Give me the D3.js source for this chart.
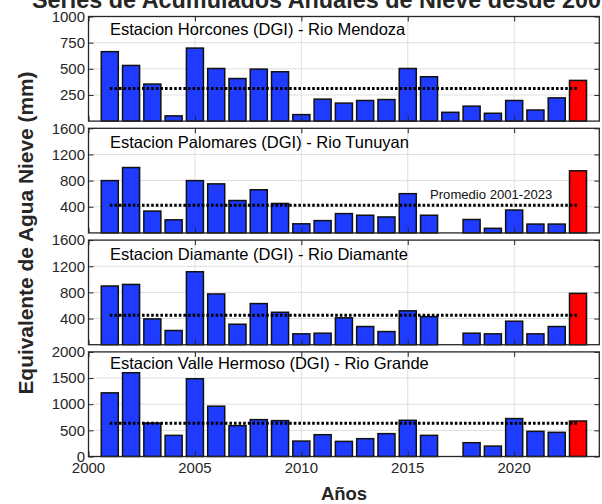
<!DOCTYPE html>
<html>
<head>
<meta charset="utf-8">
<script src="https://cdn.jsdelivr.net/npm/d3@7"></script>
<style>
  html, body { margin: 0; padding: 0; background: #fff; }
  svg { display: block; }
  text { font-family: "Liberation Sans", Arial, Helvetica, sans-serif; }
</style>
</head>
<body>
<svg id="chart" width="602" height="504"></svg>
<script>
// Hydrological years shown on every panel
const years = [2001, 2002, 2003, 2004, 2005, 2006, 2007, 2008, 2009, 2010, 2011, 2012,
               2013, 2014, 2015, 2016, 2017, 2018, 2019, 2020, 2021, 2022, 2023];

// Annual snow water equivalent (mm) per station; null = no record
const horcones   = [664, 532, 354, 50, 698, 503, 407, 497, 472, 62, 210, 172,
                    197, 206, 503, 424, 84, 143, 75, 197, 106, 222, 389];
const palomares  = [800, 1000, 334, 200, 800, 750, 495, 660, 450, 139, 188, 295,
                    270, 244, 600, 270, null, 205, 70, 350, 135, 135, 950];
const diamante   = [898, 922, 395, 217, 1116, 776, 313, 629, 496, 166, 176, 411,
                    278, 201, 518, 430, null, 176, 166, 359, 166, 278, 785];
const valleHerm  = [1217, 1602, 640, 404, 1487, 962, 590, 705, 686, 295, 417, 289,
                    341, 437, 692, 404, null, 264, 199, 725, 481, 462, 679];

// Panel titles
const stationNames = [
  "Estacion Horcones (DGI) - Rio Mendoza",
  "Estacion Palomares (DGI) - Rio Tunuyan",
  "Estacion Diamante (DGI) - Rio Diamante",
  "Estacion Valle Hermoso (DGI) - Rio Grande"
];

// Y ranges and tick values per panel
const yMax   = [1000, 1600, 1600, 2000];
const yTicks = [[250, 500, 750, 1000], [400, 800, 1200, 1600], [400, 800, 1200, 1600],
                [0, 500, 1000, 1500, 2000]];

// X axis
const xDomain = [2000, 2024];
const xTicks  = [2000, 2005, 2010, 2015, 2020];
const highlightYear = 2023;

const titleText  = "Series de Acumulados Anuales de Nieve desde 2001";
const yLabelText = "Equivalente de Agua Nieve (mm)";
const xLabelText = "Años";
const meanLabel  = "Promedio 2001-2023";

const series = [horcones, palomares, diamante, valleHerm];

// ---- layout ----
const left = 88.5, right = 599.3;
const panelTop0 = 16.5, panelStep = 111.8, panelH = 104.6;
const labelDy = [18, 20, 20.3, 17.3];

const axisColor = "#262626";
const gridColor = "#dedede";
const barBlue = "#1f3bff";
const barRed  = "#ff0000";
const tickLen = 5;

const svg = d3.select("#chart");
const x = d3.scaleLinear().domain(xDomain).range([left, right]);
const barW = (x(1) - x(0)) * 0.8;

series.forEach((vals, i) => {
  const top = panelTop0 + i * panelStep;
  const bottom = top + panelH;
  const y = d3.scaleLinear().domain([0, yMax[i]]).range([bottom, top]);
  const g = svg.append("g");

  const data = years.map((yr, k) => ({ year: yr, value: vals[k] }))
                    .filter(d => d.value != null);

  // grid
  g.append("g").selectAll("line.gy")
    .data(yTicks[i].filter(v => v > 0 && v < yMax[i]))
    .join("line")
    .attr("x1", left).attr("x2", right)
    .attr("y1", d => y(d)).attr("y2", d => y(d))
    .attr("stroke", gridColor).attr("stroke-width", 1);
  g.append("g").selectAll("line.gx")
    .data(xTicks.filter(v => v > xDomain[0]))
    .join("line")
    .attr("x1", d => x(d)).attr("x2", d => x(d))
    .attr("y1", top).attr("y2", bottom)
    .attr("stroke", gridColor).attr("stroke-width", 1);

  // bars
  g.append("g").selectAll("rect")
    .data(data)
    .join("rect")
    .attr("x", d => x(d.year) - barW / 2)
    .attr("width", barW)
    .attr("y", d => y(d.value))
    .attr("height", d => y(0) - y(d.value))
    .attr("fill", d => d.year === highlightYear ? barRed : barBlue)
    .attr("stroke", "#111")
    .attr("stroke-width", 1.5);

  // mean line across the record
  const mean = d3.mean(data, d => d.value);
  g.append("line")
    .attr("x1", x(years[0])).attr("x2", x(years[years.length - 1]))
    .attr("y1", y(mean)).attr("y2", y(mean))
    .attr("stroke", "#000")
    .attr("stroke-width", 3)
    .attr("stroke-dasharray", "2.6,2");

  if (i === 1) {
    g.append("text")
      .attr("x", 430).attr("y", y(mean) - 6.5)
      .attr("font-size", 13.1)
      .attr("fill", "#111")
      .text(meanLabel);
  }

  // axes box with inward ticks
  const axes = g.append("g");
  const yAxisL = d3.axisRight(y).tickValues(yTicks[i]).tickSize(tickLen).tickFormat("");
  const yAxisR = d3.axisLeft(y).tickValues(yTicks[i]).tickSize(tickLen).tickFormat("");
  const xAxisT = d3.axisBottom(x).tickValues(xTicks).tickSize(tickLen).tickFormat("");
  const xAxisB = d3.axisTop(x).tickValues(xTicks).tickSize(tickLen).tickFormat("");
  [[yAxisL, `translate(${left},0)`], [yAxisR, `translate(${right},0)`],
   [xAxisT, `translate(0,${top})`], [xAxisB, `translate(0,${bottom})`]].forEach(([ax, tr]) => {
    const a = axes.append("g").attr("transform", tr).call(ax);
    a.select(".domain").remove();
    a.selectAll("line").attr("stroke", axisColor).attr("stroke-width", 1);
  });
  axes.append("rect")
    .attr("x", left).attr("y", top)
    .attr("width", right - left).attr("height", panelH)
    .attr("fill", "none").attr("stroke", axisColor).attr("stroke-width", 1.3);

  // y tick labels
  g.append("g").selectAll("text.yt")
    .data(yTicks[i])
    .join("text")
    .attr("x", left - 3.5)
    .attr("y", d => y(d))
    .attr("dy", "0.35em")
    .attr("text-anchor", "end")
    .attr("font-size", 15)
    .attr("fill", axisColor)
    .text(d => d);

  // station label
  g.append("text")
    .attr("x", 110).attr("y", top + labelDy[i])
    .attr("font-size", 16.5)
    .attr("fill", "#000")
    .text(stationNames[i]);

  // x tick labels on the bottom panel only
  if (i === series.length - 1) {
    g.append("g").selectAll("text.xt")
      .data(xTicks)
      .join("text")
      .attr("x", d => x(d))
      .attr("y", bottom + 16)
      .attr("text-anchor", "middle")
      .attr("font-size", 15)
      .attr("fill", axisColor)
      .text(d => d);
  }
});

// title, axis labels
svg.append("text")
  .attr("x", 32).attr("y", 7.5)
  .attr("font-size", 23.4).attr("font-weight", "bold")
  .attr("fill", axisColor)
  .text(titleText);

svg.append("text")
  .attr("transform", `translate(33,${233}) rotate(-90)`)
  .attr("text-anchor", "middle")
  .attr("font-size", 20.9).attr("font-weight", "bold")
  .attr("fill", axisColor)
  .text(yLabelText);

svg.append("text")
  .attr("x", 344).attr("y", 500)
  .attr("text-anchor", "middle")
  .attr("font-size", 18.5).attr("font-weight", "bold")
  .attr("fill", axisColor)
  .text(xLabelText);
</script>
</body>
</html>
